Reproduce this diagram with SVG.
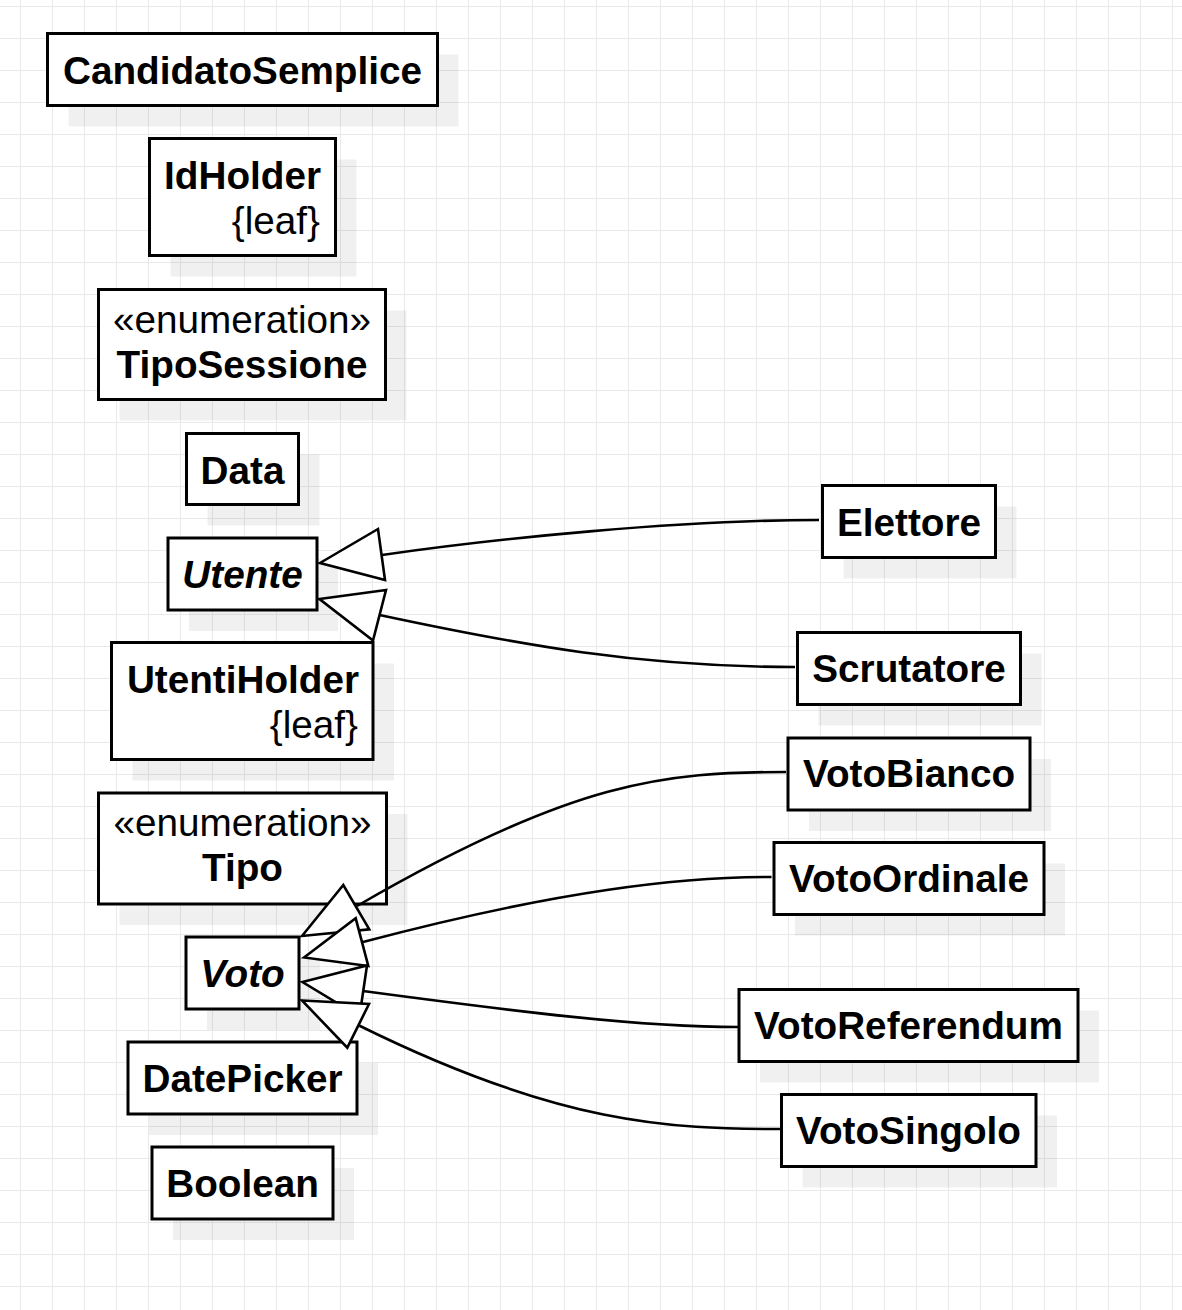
<svg xmlns="http://www.w3.org/2000/svg" width="1182" height="1310" viewBox="0 0 1182 1310">
<defs>
<pattern id="grid" width="32" height="32" patternUnits="userSpaceOnUse" x="20" y="6">
<path d="M0.5 0V32M0 0.5H32" fill="none" stroke="#e9e9e9" stroke-width="1"/>
</pattern>
</defs>
<style>
.box{fill:#fff;stroke:#000;stroke-width:3}
.sh{fill:#000;fill-opacity:0.06}
.t{font-family:"Liberation Sans",Arial,sans-serif;font-size:38.7px;fill:#000}
.b{font-weight:bold}
.i{font-style:italic}
.c{text-anchor:middle}
.r{text-anchor:end}
.ln{fill:none;stroke:#000;stroke-width:2.6}
.ar{fill:#fff;stroke:#000;stroke-width:2.6;stroke-linejoin:miter}
</style>
<rect width="1182" height="1310" fill="#fff"/>
<rect width="1182" height="1310" fill="url(#grid)"/>

<g id="CandidatoSemplice">
<rect class="sh" x="68.5" y="54.5" width="390" height="72"/>
<rect class="box" x="47.5" y="33.5" width="390" height="72"/>
<text class="t b c" x="242.5" y="83.5">CandidatoSemplice</text>
</g>
<g id="IdHolder">
<rect class="sh" x="170.5" y="159.5" width="186" height="117"/>
<rect class="box" x="149.5" y="138.5" width="186" height="117"/>
<text class="t b r" x="321" y="189">IdHolder</text>
<text class="t r" x="320" y="234">{leaf}</text>
</g>
<g id="TipoSessione">
<rect class="sh" x="119.5" y="310.5" width="287" height="110"/>
<rect class="box" x="98.5" y="289.5" width="287" height="110"/>
<text class="t c" x="242" y="333">«enumeration»</text>
<text class="t b c" x="242" y="378">TipoSessione</text>
</g>
<g id="Data">
<rect class="sh" x="207.5" y="454.5" width="112" height="71"/>
<rect class="box" x="186.5" y="433.5" width="112" height="71"/>
<text class="t b c" x="242.5" y="483.5">Data</text>
</g>
<g id="Utente">
<rect class="sh" x="189" y="559" width="149" height="72"/>
<rect class="box" x="168" y="538" width="149" height="72"/>
<text class="t b i c" x="242.5" y="588">Utente</text>
</g>
<g id="UtentiHolder">
<rect class="sh" x="132.5" y="663.5" width="261.5" height="117"/>
<rect class="box" x="111.5" y="642.5" width="261.5" height="117"/>
<text class="t b r" x="359" y="693">UtentiHolder</text>
<text class="t r" x="358" y="738">{leaf}</text>
</g>
<g id="Tipo">
<rect class="sh" x="119.5" y="814" width="288" height="111"/>
<rect class="box" x="98.5" y="793" width="288" height="111"/>
<text class="t c" x="242.5" y="836">«enumeration»</text>
<text class="t b c" x="242.5" y="881">Tipo</text>
</g>
<g id="Voto">
<rect class="sh" x="207" y="958" width="113" height="72"/>
<rect class="box" x="186" y="937" width="113" height="72"/>
<text class="t b i c" x="242.5" y="987">Voto</text>
</g>
<g id="DatePicker">
<rect class="sh" x="149" y="1063" width="229" height="72"/>
<rect class="box" x="128" y="1042" width="229" height="72"/>
<text class="t b c" x="242.5" y="1092">DatePicker</text>
</g>
<g id="Boolean">
<rect class="sh" x="173" y="1168" width="181" height="72"/>
<rect class="box" x="152" y="1147" width="181" height="72"/>
<text class="t b c" x="242.5" y="1197">Boolean</text>
</g>
<g id="Elettore">
<rect class="sh" x="843.5" y="506.5" width="173" height="72"/>
<rect class="box" x="822.5" y="485.5" width="173" height="72"/>
<text class="t b c" x="909" y="535.5">Elettore</text>
</g>
<g id="Scrutatore">
<rect class="sh" x="818.5" y="653.5" width="223" height="72"/>
<rect class="box" x="797.5" y="632.5" width="223" height="72"/>
<text class="t b c" x="909" y="681.5">Scrutatore</text>
</g>
<g id="VotoBianco">
<rect class="sh" x="809" y="759" width="242" height="72"/>
<rect class="box" x="788" y="738" width="242" height="72"/>
<text class="t b c" x="909" y="787">VotoBianco</text>
</g>
<g id="VotoOrdinale">
<rect class="sh" x="795" y="863.5" width="270" height="72"/>
<rect class="box" x="774" y="842.5" width="270" height="72"/>
<text class="t b c" x="909" y="891.5">VotoOrdinale</text>
</g>
<g id="VotoReferendum">
<rect class="sh" x="760" y="1010.5" width="339" height="72"/>
<rect class="box" x="739" y="989.5" width="339" height="72"/>
<text class="t b c" x="908.5" y="1038.5">VotoReferendum</text>
</g>
<g id="VotoSingolo">
<rect class="sh" x="802.5" y="1115.5" width="254.5" height="72"/>
<rect class="box" x="781.5" y="1094.5" width="254.5" height="72"/>
<text class="t b c" x="908.5" y="1143.5">VotoSingolo</text>
</g>

<g id="connectors">
<path class="ln" d="M819,520 C680,520 500,538 382,555"/>
<polygon class="ar" points="320,563 378,529 385,580"/>
<path class="ln" d="M795,667 C640,667 520,645 379.5,615"/>
<polygon class="ar" points="319.5,599 386,590 373,640.5"/>
<path class="ln" d="M786,772 C666,772 574,780 357,906"/>
<polygon class="ar" points="302,936 343.3,885 369.3,929.3"/>
<path class="ln" d="M771.5,877 C680,877 560,890 363,942"/>
<polygon class="ar" points="304,957.5 355.7,918.3 368.3,966"/>
<path class="ln" d="M738,1027 C640,1027 520,1012 363,991"/>
<polygon class="ar" points="302.5,982 367,965.5 359.5,1016.5"/>
<path class="ln" d="M780,1129 C670,1129 560,1125 358,1025"/>
<polygon class="ar" points="302,1000.5 369,1004 347.3,1047.7"/>
</g>
</svg>
